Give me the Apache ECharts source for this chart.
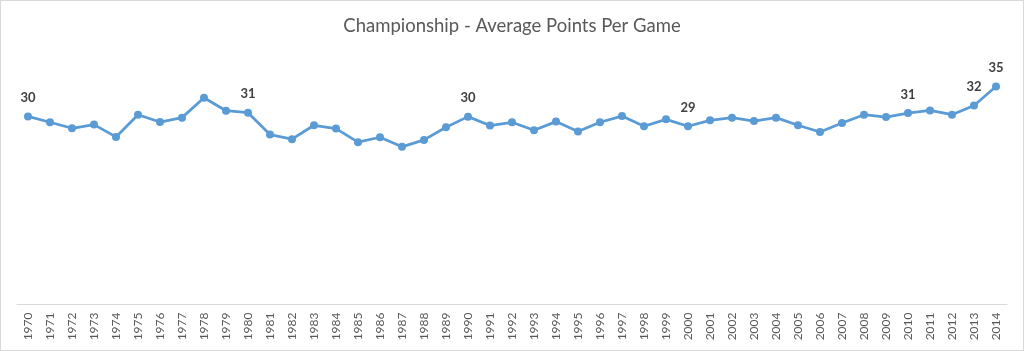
<!DOCTYPE html>
<html><head><meta charset="utf-8">
<script src="https://cdn.jsdelivr.net/npm/echarts@6/dist/echarts.min.js"></script>
<style>html,body{margin:0;padding:0;background:#fff}#c{width:1024px;height:351px;box-sizing:border-box;border:1px solid #d9d9d9}</style>
</head><body><div id="c"></div>
<script>
const years = ['1970','1971','1972','1973','1974','1975','1976','1977','1978','1979','1980','1981','1982','1983','1984','1985','1986','1987','1988','1989','1990','1991','1992','1993','1994','1995','1996','1997','1998','1999','2000','2001','2002','2003','2004','2005','2006','2007','2008','2009','2010','2011','2012','2013','2014'];
const avgPoints = [30.22,29.27,28.31,28.90,26.92,30.49,29.31,30.02,33.21,31.13,30.81,27.30,26.56,28.79,28.26,26.08,26.87,25.33,26.44,28.47,30.18,28.74,29.27,27.99,29.38,27.78,29.27,30.27,28.63,29.74,28.63,29.59,30.02,29.47,30.02,28.79,27.72,29.15,30.49,30.11,30.75,31.18,30.49,31.98,35.01];
const labelledYears = ['1970','1980','1990','2000','2010','2013','2014'];

const chart = echarts.init(document.getElementById('c'));
chart.setOption({
  animation:false,
  title:{text:'Championship - Average Points Per Game',left:'center',top:11,
    textStyle:{fontFamily:'Lato',fontWeight:'normal',fontSize:18.5,color:'#595959'}},
  grid:{left:16,right:16,top:54.5,bottom:45.5},
  xAxis:{type:'category',data:years,boundaryGap:true,
    axisLine:{lineStyle:{color:'#d9d9d9',width:1}},axisTick:{show:false},
    axisLabel:{rotate:90,interval:0,fontFamily:'Lato',fontSize:12,color:'#595959',margin:8}},
  yAxis:{type:'value',min:0,max:40,show:false,splitLine:{show:false}},
  series:[{type:'line',data:avgPoints.map((v,i)=>({value:v,label:{show:labelledYears.includes(years[i])}})),
    symbol:'circle',symbolSize:8,
    lineStyle:{color:'#5B9BD5',width:2.75},itemStyle:{color:'#5B9BD5'},
    label:{position:'top',distance:8,fontFamily:'Lato',fontWeight:'bold',fontSize:13,color:'#404040',
      formatter:p=>Math.round(p.value)}}]
});
</script></body></html>
